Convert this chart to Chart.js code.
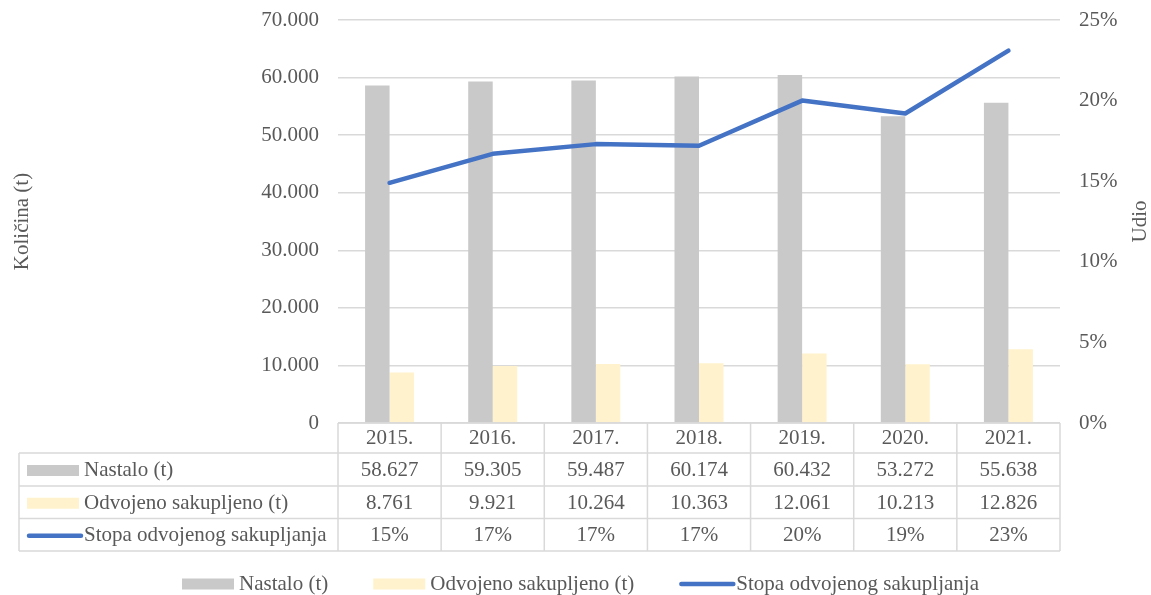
<!DOCTYPE html>
<html>
<head>
<meta charset="utf-8">
<script src="https://cdn.jsdelivr.net/npm/chart.js@4.4.1/dist/chart.umd.min.js"></script>
<style>
html,body{margin:0;padding:0;background:#fff;}
canvas{display:block;}
</style>
</head>
<body>
<canvas id="otpad" width="1151" height="595"></canvas>
<script>
(function () {

// ---- data ----
const godine = ['2015.', '2016.', '2017.', '2018.', '2019.', '2020.', '2021.'];
const nastalo = [58627, 59305, 59487, 60174, 60432, 53272, 55638];
const odvojeno = [8761, 9921, 10264, 10363, 12061, 10213, 12826];
const stopa = [14.9, 16.7, 17.3, 17.2, 20.0, 19.2, 23.1];   // %
const kolicinaTicks = [0, 10000, 20000, 30000, 40000, 50000, 60000, 70000];
const udioTicks = [0, 5, 10, 15, 20, 25];

const nazivi = ['Nastalo (t)', 'Odvojeno sakupljeno (t)', 'Stopa odvojenog sakupljanja'];
const boje = ['#C9C9C9', '#FFF2CC', '#4472C4'];

const FONT = '"Liberation Serif", "Times New Roman", serif';
const TXT = '#595959';
const LINIJE = '#D9D9D9';

function tocke(n) {
  return String(n).replace(/\B(?=(\d{3})+(?!\d))/g, '.');
}

/* ---- key (little legend sample) ---- */
function kljuc(ctx, i, x, yc) {
  if (i < 2) {
    ctx.fillStyle = boje[i];
    ctx.fillRect(x, yc - 5.5, 52, 11);
  } else {
    ctx.save();
    ctx.strokeStyle = boje[2];
    ctx.lineWidth = 4.5;
    ctx.lineCap = 'round';
    ctx.beginPath();
    ctx.moveTo(x + 2, yc);
    ctx.lineTo(x + 54, yc);
    ctx.stroke();
    ctx.restore();
  }
}

/* ---- data table under the plot + bottom legend ---- */
const tablica = {
  id: 'tablica',
  afterDraw(chart) {
    const {ctx, scales: {x}} = chart;
    const top = x.top;
    const rows = [top, top + 30, top + 63, top + 95.5, top + 128];
    const half = (x.getPixelForValue(1) - x.getPixelForValue(0)) / 2;
    const lijevo = 19;

    ctx.save();
    ctx.strokeStyle = LINIJE;
    ctx.lineWidth = 1.5;
    ctx.beginPath();
    // header row top
    ctx.moveTo(x.left, rows[0]); ctx.lineTo(x.right, rows[0]);
    for (let r = 1; r < rows.length; r++) {
      ctx.moveTo(lijevo, rows[r]); ctx.lineTo(x.right, rows[r]);
    }
    // verticals
    for (let i = 0; i <= godine.length; i++) {
      const px = x.getPixelForValue(i) - half;
      ctx.moveTo(px, rows[0]); ctx.lineTo(px, rows[4]);
    }
    ctx.moveTo(lijevo, rows[1]); ctx.lineTo(lijevo, rows[4]);
    ctx.stroke();

    ctx.font = '21px ' + FONT;
    ctx.fillStyle = TXT;
    ctx.textBaseline = 'middle';

    const redovi = [
      nastalo.map(tocke),
      odvojeno.map(tocke),
      stopa.map(v => Math.round(v) + '%')
    ];
    for (let r = 0; r < 3; r++) {
      const yc = (rows[r + 1] + rows[r + 2]) / 2 + 1;
      kljuc(ctx, r, 27, yc);
      ctx.fillStyle = TXT;
      ctx.textAlign = 'left';
      ctx.fillText(nazivi[r], 84, yc);
      ctx.textAlign = 'center';
      redovi[r].forEach((t, i) => ctx.fillText(t, x.getPixelForValue(i), yc));
    }

    // bottom legend
    let lx = 182;
    const ly = 584;
    ctx.textAlign = 'left';
    for (let i = 0; i < 3; i++) {
      kljuc(ctx, i, lx, ly);
      ctx.fillStyle = TXT;
      ctx.fillText(nazivi[i], lx + 57, ly);
      lx += 57 + ctx.measureText(nazivi[i]).width + 45;
    }

    // right axis title (reads bottom to top)
    const y1 = chart.scales.y1;
    ctx.translate(1140, (y1.top + y1.bottom) / 2);
    ctx.rotate(-Math.PI / 2);
    ctx.textAlign = 'center';
    ctx.fillText('Udio', 0, 0);
    ctx.restore();
  }
};

new Chart(document.getElementById('otpad').getContext('2d'), {
  data: {
    labels: godine,
    datasets: [
      {
        type: 'line',
        label: nazivi[2],
        data: stopa,
        yAxisID: 'y1',
        borderColor: boje[2],
        borderWidth: 4.5,
        borderCapStyle: 'round',
        borderJoinStyle: 'round',
        pointRadius: 0,
        tension: 0,
        order: 0
      },
      {
        type: 'bar',
        label: nazivi[0],
        data: nastalo,
        yAxisID: 'y',
        backgroundColor: boje[0],
        categoryPercentage: 0.475,
        barPercentage: 1,
        order: 1
      },
      {
        type: 'bar',
        label: nazivi[1],
        data: odvojeno,
        yAxisID: 'y',
        backgroundColor: boje[1],
        categoryPercentage: 0.475,
        barPercentage: 1,
        order: 1
      }
    ]
  },
  options: {
    responsive: false,
    animation: false,
    layout: {padding: {top: 20, bottom: 44, left: 0, right: 0}},
    plugins: {
      legend: {display: false},
      tooltip: {enabled: false}
    },
    scales: {
      x: {
        grid: {display: false, drawTicks: false},
        border: {display: false},
        ticks: {font: {family: FONT, size: 21}, color: TXT, padding: 3, maxRotation: 0},
        afterFit(s) { s.height = 128; }
      },
      y: {
        position: 'left',
        min: 0,
        max: kolicinaTicks[kolicinaTicks.length - 1],
        afterBuildTicks(s) { s.ticks = kolicinaTicks.map(v => ({value: v})); },
        grid: {color: LINIJE, lineWidth: 1.5, drawTicks: false},
        border: {display: false},
        ticks: {
          font: {family: FONT, size: 21}, color: TXT, padding: 19,
          callback: v => tocke(v)
        },
        title: {
          display: true, text: 'Količina (t)',
          font: {family: FONT, size: 21}, color: TXT,
          padding: {top: 10, bottom: 0}
        },
        afterFit(s) { s.width = 338; s.paddingTop = 0; s.paddingBottom = 0; }
      },
      y1: {
        position: 'right',
        min: 0,
        max: udioTicks[udioTicks.length - 1],
        afterBuildTicks(s) { s.ticks = udioTicks.map(v => ({value: v})); },
        grid: {drawOnChartArea: false, drawTicks: false},
        border: {display: false},
        ticks: {
          font: {family: FONT, size: 21}, color: TXT, padding: 19,
          callback: v => v + '%'
        },
        afterFit(s) { s.width = 91; s.paddingTop = 0; s.paddingBottom = 0; }
      }
    }
  },
  plugins: [tablica]
});

})();
</script>
</body>
</html>
